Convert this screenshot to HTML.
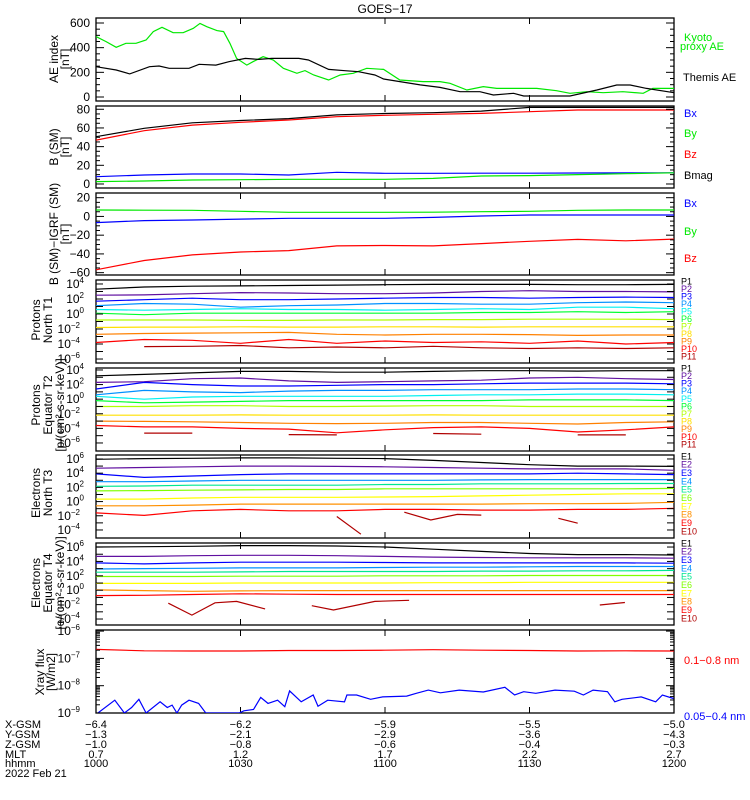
<!DOCTYPE html>
<html><head><meta charset="utf-8"><title>GOES-17</title>
<style>
html,body{margin:0;padding:0;background:#fff;}
svg{display:block;font-family:"Liberation Sans",sans-serif;}
</style></head>
<body>
<svg id="chart" width="750" height="800" viewBox="0 0 750 800" xmlns="http://www.w3.org/2000/svg">
<text x="385" y="13" text-anchor="middle" font-size="12">GOES−17</text>
</svg>
<script>
// ---------- DATA ----------
const timeTicks = [0, 30, 60, 90, 120];
const hhmmLabels = ["1000", "1030", "1100", "1130", "1200"];
const xgsmLabels = ["-6.4", "-6.2", "-5.9", "-5.5", "-5.0"];
const ygsmLabels = ["-1.3", "-2.1", "-2.9", "-3.6", "-4.3"];
const zgsmLabels = ["-1.0", "-0.8", "-0.6", "-0.4", "-0.3"];
const mltLabels = ["0.7", "1.2", "1.7", "2.2", "2.7"];

const aeKyotoTimes = [0,2.1,4.2,6.2,8.3,10.4,11.9,13.7,16,18.1,20.2,21.6,23,25.1,26.5,27.8,29.2,31.3,32.6,34.7,36.8,38.9,41.7,43.4,45.2,48.3,50.7,53.4,56.2,59.7,63.1,67.9,71.4,73.5,77,80.4,83.2,91.5,95.6,98.4,101.9,105.3,109.4,113.6,115.6,118.5,120];
const aeKyoto = [490,449,403,435,435,462,530,565,521,521,557,597,570,538,530,435,313,259,286,327,300,233,192,214,178,138,178,192,233,224,138,125,125,111,57,84,70,70,51,30,43,35,43,30,70,70,70];
const aeThemisTimes = [0,4.2,7,11.1,13.1,15.2,19.3,21.4,24.9,27.6,31,33.8,36.5,42.1,44.1,48.3,51.7,54.5,57.9,59.7,63.1,67.3,71.4,75.6,79.7,82.5,86.7,88.8,94.3,98.4,104,108.1,110.9,114.3,120];
const aeThemis = [246,219,187,246,251,233,233,265,259,286,313,305,313,313,300,224,213,205,178,146,125,98,78,43,43,16,30,8,8,8,57,97,97,70,35];

const bTimes = [0,10,20,30,40,50,60,70,80,90,100,110,120];
const bBx = [7.8,9.6,10.7,10.7,9.6,12.5,11.4,11.4,11.6,11.6,11.8,12,12];
const bBy = [2.5,3.2,4.3,4.6,5,5,5,6,8.6,9,10,11,12];
const bBz = [47,57,63,66,68.5,72,73.5,74.6,75.6,77.4,79.2,79.2,79.2];
const bMag = [50.6,59.6,65.5,68,70,74,75.5,76.3,78,82,82,82,82];

const dBx = [-6.6,-4.5,-3.8,-2.8,-2,-2,-2,-1,0.5,1.5,1.5,1.5,1.5];
const dBy = [6.9,6.6,6.5,5.5,4.4,4.4,4.4,4.5,5,5.5,6.5,6.9,6.9];
const dBz = [-57,-47,-41,-38,-36.5,-31.5,-31,-31.5,-29,-26.5,-24.5,-26,-24.2];

const fluxTimes = [0,10,20,30,40,50,60,70,80,90,100,110,120];
// proton T1 log10 flux
const pT1 = [
 [3.3,3.6,3.7,3.75,3.8,3.85,3.9,3.95,3.95,3.95,3.9,3.9,3.95],
 [2.5,2.55,2.7,2.85,2.8,2.7,2.7,2.8,3.0,3.1,3.0,3.0,2.95],
 [1.7,1.9,2.1,1.9,1.9,2.0,2.1,2.2,2.2,2.1,2.2,2.25,2.2],
 [1.1,1.4,1.3,0.9,1.1,1.2,1.4,1.4,1.3,1.3,1.5,1.6,1.5],
 [0.6,0.5,0.6,0.7,0.6,0.6,0.5,0.6,0.7,0.6,0.9,0.9,0.7],
 [0.1,-0.1,0.1,0.1,0.1,0.1,0.1,0.1,0.2,0.2,0.3,0.2,0.3],
 [-0.8,-0.8,-0.8,-0.85,-0.85,-0.8,-0.8,-0.75,-0.75,-0.7,-0.7,-0.7,-0.75],
 [-1.8,-1.75,-1.75,-1.7,-1.75,-1.75,-1.7,-1.7,-1.75,-1.7,-1.7,-1.7,-1.7],
 [-2.7,-2.6,-2.55,-2.5,-2.45,-2.7,-2.8,-2.7,-2.7,-2.75,-2.85,-2.8,-2.8],
 [-3.8,-3.4,-3.5,-3.9,-3.4,-3.9,-3.6,-3.8,-3.7,-3.9,-3.6,-4.0,-3.8],
 [null,-4.35,-4.3,-4.2,-4.5,-4.4,-4.5,-4.3,-4.5,-4.6,-4.5,-4.6,-4.5]
];
const pT2 = [
 [3.2,3.4,3.6,3.8,3.8,3.7,3.7,3.8,3.9,3.9,3.85,3.9,3.9],
 [2.3,2.4,2.8,2.9,2.5,2.3,2.4,2.5,2.6,2.9,3.0,2.8,2.7],
 [1.4,2.3,2.0,1.8,1.8,1.9,2.0,2.0,2.1,2.2,2.2,2.2,2.1],
 [0.6,1.2,1.0,0.9,1.1,1.2,1.2,1.3,1.3,1.3,1.4,1.4,1.3],
 [0.4,0.0,0.3,0.4,0.4,0.4,0.4,0.5,0.6,0.6,0.7,0.7,0.6],
 [-0.2,-0.5,-0.4,-0.3,-0.2,-0.2,-0.2,-0.2,-0.2,-0.1,-0.1,-0.1,-0.2],
 [-1.0,-1.0,-0.9,-0.9,-1.0,-1.0,-0.95,-0.9,-0.9,-1.0,-1.0,-1.0,-1.0],
 [-2.2,-2.2,-2.2,-2.15,-2.2,-2.2,-2.2,-2.15,-2.2,-2.2,-2.2,-2.2,-2.2],
 [-3.0,-3.05,-3.1,-3.2,-3.3,-3.35,-3.3,-3.2,-3.2,-3.3,-3.4,-3.2,-3.1],
 [-3.6,-3.8,-3.8,-4.0,-4.1,-4.6,-4.2,-3.9,-3.8,-4.0,-4.5,-4.2,-3.8],
 [null,-4.65,-4.65,null,-4.85,-4.9,null,-4.7,-4.8,null,-4.9,-4.9,null]
];
const eT3 = [
 [5.95,6.05,6.1,6.15,6.15,6.1,6.05,5.8,5.5,5.2,5.0,5.0,4.95],
 [4.7,4.8,4.9,5.0,5.0,4.95,4.9,4.8,4.7,4.6,4.6,4.6,4.4],
 [3.9,3.4,3.6,3.8,3.9,3.9,3.9,3.9,3.9,3.9,4.0,3.9,3.8],
 [2.8,2.8,2.9,3.0,3.0,3.0,3.0,3.0,3.05,3.1,3.1,3.1,3.1],
 [2.15,2.2,2.3,2.3,2.3,2.3,2.4,2.4,2.5,2.5,2.5,2.55,2.55],
 [1.5,1.55,1.6,1.65,1.7,1.7,1.8,1.8,1.8,1.8,1.8,1.8,1.85],
 [0.35,0.35,0.5,0.6,0.6,0.6,0.65,0.7,0.8,0.9,1.0,1.1,1.1],
 [-0.6,-0.6,-0.5,-0.35,-0.35,-0.35,-0.35,-0.35,-0.35,-0.3,-0.3,-0.25,-0.1],
 [-1.6,-1.95,-1.3,-1.1,-1.3,-1.3,-1.1,-1.1,-1.2,-1.2,-1.1,-1.1,-0.95]
];
const e10T3Times = [50,55,null,64,69.5,75,80,null,96,100];
const e10T3 = [-2.1,-4.6,null,-1.5,-2.6,-1.8,-1.9,null,-2.35,-3.05];
const eT4 = [
 [6.0,6.05,6.1,6.2,6.2,6.15,6.0,5.7,5.4,5.1,4.95,4.95,4.9],
 [4.7,4.7,4.8,4.85,4.85,4.8,4.7,4.6,4.55,4.5,4.5,4.5,4.45],
 [3.8,3.65,3.8,3.9,3.9,3.9,3.85,3.8,3.8,3.8,3.8,3.8,3.75],
 [2.95,3.0,3.05,3.1,3.1,3.1,3.15,3.2,3.2,3.25,3.3,3.3,3.3],
 [2.5,2.5,2.5,2.55,2.6,2.6,2.6,2.6,2.65,2.65,2.7,2.7,2.75],
 [1.9,1.9,1.9,1.95,1.95,1.95,2.0,2.0,2.0,2.05,2.05,2.05,2.05],
 [0.95,0.95,0.95,1.0,1.0,1.0,1.0,1.05,1.05,1.1,1.1,1.1,1.1],
 [0.05,-0.05,-0.15,-0.1,-0.05,-0.05,-0.05,-0.05,-0.05,-0.05,-0.05,-0.05,-0.05],
 [-0.75,-0.7,-0.6,-0.5,-0.55,-0.6,-0.6,-0.6,-0.6,-0.6,-0.6,-0.6,-0.6]
];
const e10T4Times = [15,19.9,24.7,29.2,35.1,null,44.8,49.3,57.9,65,null,104.6,109.8];
const e10T4 = [-1.8,-3.45,-1.75,-1.55,-2.6,null,-2.15,-2.75,-1.55,-1.4,null,-2.05,-1.7];

const xrayLongTimes = [0,10,20,30,40,50,60,70,80,90,100,110,120];
const xrayLong = [-6.67,-6.72,-6.73,-6.73,-6.71,-6.71,-6.70,-6.68,-6.70,-6.71,-6.73,-6.72,-6.73];
const xrayShortTimes = [0.4,3.9,5.9,7.4,8.9,10.4,13.3,14.8,15.8,16.8,17.8,19.3,21.3,22.8,29.7,30.7,32.7,34.2,35.7,37.7,39.2,40.2,42.6,45.1,46.1,48.1,51.6,52.1,54.1,57.0,59.5,64.5,66.5,69.0,71.5,75.4,80.4,84.9,86.9,88.8,91.3,95.3,99.3,101.2,103.2,106.2,107.7,109.2,113.2,116.2,117.6,119.9];
const xrayShort = [-9.0,-8.53,-9.0,-8.80,-8.50,-9.0,-8.59,-8.80,-8.71,-9.0,-8.71,-8.53,-8.65,-9.0,-9.0,-8.92,-8.87,-8.43,-8.65,-8.53,-8.77,-8.19,-8.59,-8.34,-8.75,-8.53,-8.59,-8.34,-8.34,-8.50,-8.41,-8.38,-8.28,-8.16,-8.26,-8.16,-8.23,-8.06,-8.34,-8.22,-8.28,-8.16,-8.20,-8.34,-8.16,-8.22,-8.59,-8.50,-8.41,-8.59,-8.34,-8.47];

// ---------- LAYOUT ----------
const NS = "http://www.w3.org/2000/svg";
const svg = document.getElementById("chart");
const X0 = 96, X1 = 674;
const pColors = ["#000000","#6010a0","#0000ff","#0090ff","#00f0f0","#00ff30","#b0ff00","#ffe000","#ff8000","#ff0000","#b00000"];
const eColors = ["#000000","#6010a0","#0000ff","#0090ff","#00e890","#80ff00","#ffff00","#ff9000","#ff0000","#b00000"];
function sx(t){ return X0 + t/120*(X1-X0); }
function mk(tag, attrs, parent){
  const el = document.createElementNS(NS, tag);
  for (const k in attrs) el.setAttribute(k, attrs[k]);
  (parent||svg).appendChild(el);
  return el;
}
function makePanel(id, top, bottom, vmin, vmax){
  const g = mk("g", {});
  
  
  const cp = mk("clipPath", {id: "clip-" + id}, g);
  mk("rect", {x: X0, y: top, width: X1-X0, height: bottom-top}, cp);
  const frame = mk("rect", {x: X0, y: top, width: X1-X0, height: bottom-top, fill: "none", stroke: "#000", "stroke-width": 1.3}, g);
  
  
  const sy = v => top + (vmax - v)/(vmax - vmin)*(bottom - top);
  // x ticks
  timeTicks.forEach(t => {
    const xt = sx(t);
    mk("line", {x1: xt, x2: xt, y1: bottom, y2: bottom-6, stroke: "#000"}, g);
    mk("line", {x1: xt, x2: xt, y1: top, y2: top+6, stroke: "#000"}, g);
  });
  const lines = mk("g", {"clip-path": "url(#clip-" + id + ")"}, g);
  return {g, lines, sy, top, bottom};
}
function yTick(P, v, len, label, sup){
  const y = P.sy(v);
  mk("line", {x1: X0, x2: X0+len, y1: y, y2: y, stroke: "#000"}, P.g);
  mk("line", {x1: X1, x2: X1-len, y1: y, y2: y, stroke: "#000"}, P.g);
  if (label !== undefined && label !== null){
    const tx = mk("text", {x: 90, y: y+4, "text-anchor": "end", "font-size": 12}, P.g);
    
    
    if (sup !== undefined){
      tx.textContent = "10";
      const ts = mk("tspan", {dy: -5, "font-size": 8}, tx);
      ts.textContent = sup;
      tx.setAttribute("x", 90 - 4*String(sup).length - 2);
    } else tx.textContent = label;
  }
}
function drawLine(P, times, vals, color, name){
  let d = "", pen = false;
  for (let i = 0; i < vals.length; i++){
    if (vals[i] === null || times[i] === null){ pen = false; continue; }
    d += (pen ? "L" : "M") + sx(times[i]).toFixed(1) + " " + P.sy(vals[i]).toFixed(1);
    pen = true;
  }
  const p = mk("path", {d: d, fill: "none", stroke: color, "stroke-width": 1.2}, P.lines);
  
  
  return p;
}
function rightLabel(text, x, y, color, size, name){
  const t = mk("text", {x: x, y: y, fill: color, "font-size": size, "dominant-baseline": "middle"});
  t.textContent = text;
  
  
}
function yTitle(lines, cy, xs, name){
  lines.forEach((s, i) => {
    const t = mk("text", {x: 0, y: 0, "font-size": 12, "text-anchor": "middle", transform: "translate(" + xs[i] + "," + cy + ") rotate(-90)"});
    t.textContent = s;
    
    
  });
}

// Panel 1: AE
const P1 = makePanel("ae-index", 18, 101, -32.4, 640.5);
for (let v = 0; v <= 600; v += 50) yTick(P1, v, v % 200 === 0 ? 8 : 4, v % 200 === 0 ? String(v) : null);
drawLine(P1, aeKyotoTimes, aeKyoto, "#00e800", "kyoto-ae-line");
drawLine(P1, aeThemisTimes, aeThemis, "#000000", "themis-ae-line");
yTitle(["AE index", "[nT]"], 59, [58, 69], "ae-y-axis-title");
rightLabel("Kyoto", 684, 38, "#00e800", 11, "legend-kyoto");
rightLabel("proxy AE", 680, 47, "#00e800", 11, "legend-kyoto");
rightLabel("Themis AE", 683, 78, "#000", 11, "legend-themis");

// Panel 2: B (SM)
const P2 = makePanel("b-sm", 106, 188, -4.3, 83.5);
for (let v = 0; v <= 80; v += 5) yTick(P2, v, v % 20 === 0 ? 8 : 4, v % 20 === 0 ? String(v) : null);
drawLine(P2, bTimes, bBx, "#0000ff", "b-bx-line");
drawLine(P2, bTimes, bBy, "#00e800", "b-by-line");
drawLine(P2, bTimes, bBz, "#ff0000", "b-bz-line");
drawLine(P2, bTimes, bMag, "#000000", "b-mag-line");
yTitle(["B (SM)", "[nT]"], 147, [58, 69], "b-y-axis-title");
rightLabel("Bx", 684, 114, "#0000ff", 11, "legend-bx");
rightLabel("By", 684, 134, "#00e800", 11, "legend-by");
rightLabel("Bz", 684, 155, "#ff0000", 11, "legend-bz");
rightLabel("Bmag", 684, 176, "#000", 11, "legend-bmag");

// Panel 3: B - IGRF
const P3 = makePanel("b-igrf", 193, 275, -62.5, 25);
for (let v = -60; v <= 20; v += 5) yTick(P3, v, v % 20 === 0 ? 8 : 4, v % 20 === 0 ? (v < 0 ? "−" + (-v) : String(v)) : null);
drawLine(P3, bTimes, dBx, "#0000ff", "dbx-line");
drawLine(P3, bTimes, dBy, "#00e800", "dby-line");
drawLine(P3, bTimes, dBz, "#ff0000", "dbz-line");
yTitle(["B (SM)−IGRF (SM)", "[nT]"], 234, [58, 69], "b-igrf-y-axis-title");
rightLabel("Bx", 684, 204, "#0000ff", 11, "legend-dbx");
rightLabel("By", 684, 232, "#00e800", 11, "legend-dby");
rightLabel("Bz", 684, 259, "#ff0000", 11, "legend-dbz");

// Panel 4: protons T1
const P4 = makePanel("protons-t1", 280, 363, -6.53, 4.53);
for (let L = -6; L <= 4; L++) yTick(P4, L, 7, L % 2 === 0 ? "x" : null, L % 2 === 0 ? (L < 0 ? "−" + (-L) : String(L)) : undefined);
pT1.forEach((s, i) => drawLine(P4, fluxTimes, s, pColors[i], "proton-t1-p" + (i+1)));
yTitle(["Protons", "North T1"], 320, [40, 52], "protons-t1-y-title");
pT1.forEach((s, i) => rightLabel("P" + (i+1), 681, 282 + i*7.5, pColors[i], 9, "legend-t1-p" + (i+1)));

// Panel 5: protons T2
const P5 = makePanel("protons-t2", 368, 451, -7.1, 4.27);
for (let L = -6; L <= 4; L++) yTick(P5, L, 7, L % 2 === 0 ? "x" : null, L % 2 === 0 ? (L < 0 ? "−" + (-L) : String(L)) : undefined);
pT2.forEach((s, i) => drawLine(P5, fluxTimes, s, pColors[i], "proton-t2-p" + (i+1)));
yTitle(["Protons", "Equator T2", "[p/(cm²-s-sr-keV)]"], 405, [40, 52, 64], "protons-t2-y-title");
pT2.forEach((s, i) => rightLabel("P" + (i+1), 681, 369 + i*7.6, pColors[i], 9, "legend-t2-p" + (i+1)));

// Panel 6: electrons T3
const P6 = makePanel("electrons-t3", 455, 538, -5.13, 6.56);
for (let L = -4; L <= 6; L++) yTick(P6, L, 7, L % 2 === 0 ? "x" : null, L % 2 === 0 ? (L < 0 ? "−" + (-L) : String(L)) : undefined);
eT3.forEach((s, i) => drawLine(P6, fluxTimes, s, eColors[i], "electron-t3-e" + (i+1)));
drawLine(P6, e10T3Times, e10T3, eColors[9], "electron-t3-e10");
yTitle(["Electrons", "North T3"], 493, [40, 52], "electrons-t3-y-title");
eColors.forEach((c, i) => rightLabel("E" + (i+1), 681, 457 + i*8.33, c, 9, "legend-t3-e" + (i+1)));

// Panel 7: electrons T4
const P7 = makePanel("electrons-t4", 543, 625, -4.83, 6.56);
for (let L = -4; L <= 6; L++) yTick(P7, L, 7, L % 2 === 0 ? "x" : null, L % 2 === 0 ? (L < 0 ? "−" + (-L) : String(L)) : undefined);
eT4.forEach((s, i) => drawLine(P7, fluxTimes, s, eColors[i], "electron-t4-e" + (i+1)));
drawLine(P7, e10T4Times, e10T4, eColors[9], "electron-t4-e10");
yTitle(["Electrons", "Equator T4", "[e/(cm²-s-sr-keV)]"], 583, [40, 52, 64], "electrons-t4-y-title");
eColors.forEach((c, i) => rightLabel("E" + (i+1), 681, 544 + i*8.33, c, 9, "legend-t4-e" + (i+1)));

// Panel 8: X-ray
const P8 = makePanel("xray-flux", 630, 713, -9.0, -5.96);
for (let L = -9; L <= -6; L++){
  yTick(P8, L, 8, "x", "−" + (-L));
  if (L < -6) for (let m = 2; m <= 9; m++) yTick(P8, L + Math.log10(m), 4, null);
}
drawLine(P8, xrayLongTimes, xrayLong, "#ff0000", "xray-long-line");
drawLine(P8, xrayShortTimes, xrayShort, "#0000ff", "xray-short-line");
yTitle(["Xray flux", "[W/m2]"], 672, [44, 55], "xray-y-title");
rightLabel("0.1−0.8 nm", 684, 661, "#ff0000", 11, "legend-xray-long");
rightLabel("0.05−0.4 nm", 684, 717, "#0000ff", 11, "legend-xray-short");

// bottom annotation rows
const rows = [["X-GSM", xgsmLabels, 724], ["Y-GSM", ygsmLabels, 734], ["Z-GSM", zgsmLabels, 744], ["MLT", mltLabels, 754], ["hhmm", hhmmLabels, 763]];
rows.forEach(r => {
  const h = mk("text", {x: 5, y: r[2] + 4, "font-size": 11});
  h.textContent = r[0];
  
  
  r[1].forEach((lab, i) => {
    const t = mk("text", {x: sx(timeTicks[i]), y: r[2] + 4, "font-size": 11, "text-anchor": "middle"});
    t.textContent = lab.replace("-", "−");
    
    
  });
});
const dt = mk("text", {x: 5, y: 777, "font-size": 11});
dt.textContent = "2022 Feb 21";


</script>
</body></html>
